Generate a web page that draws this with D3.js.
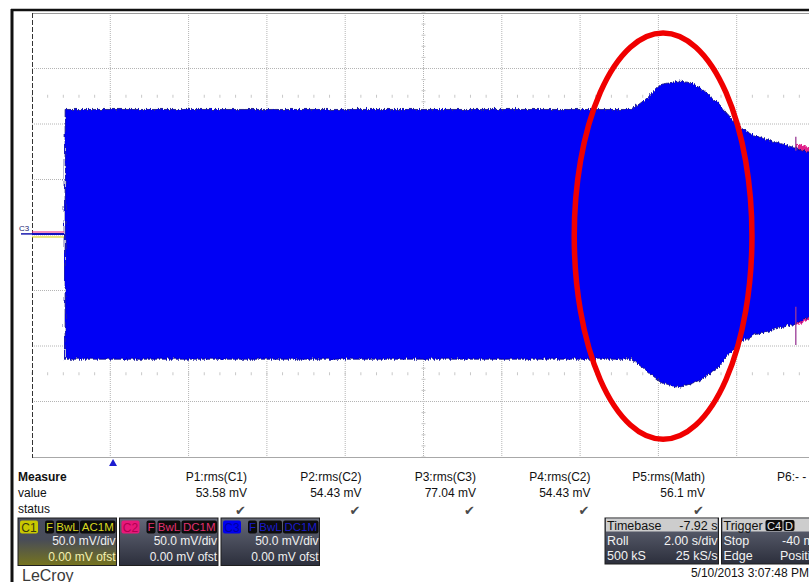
<!DOCTYPE html>
<html>
<head>
<meta charset="utf-8">
<script src="https://cdn.jsdelivr.net/npm/d3@7"></script>
<style>
  body { margin: 0; background: #fff; }
  svg { display: block; font-family: "Liberation Sans", Arial, sans-serif; }
</style>
</head>
<body>
<script>
// envelope of the C3 trace (time in s, amplitude in mV)
const envTime = [0.82, 15.30, 15.70, 16.04, 16.50, 16.81, 17.10, 17.50, 18.00, 18.45, 18.94, 19.45, 19.51, 19.85, 20.0];
const envUpper = [114, 114, 124.6, 136.7, 139.6, 138.1, 132, 120, 99, 90, 85, 79.6, 79, 75, 74];
const envLower = [-111, -111, -122, -132, -136.5, -133, -129, -118, -97.6, -89, -84, -79.5, -79, -72, -71];

// idle traces before the burst starts
const idleTime = [0, 0.82];
const idleC1 = [-1.8, -1.8];
const idleC2 = [2.7, 2.7];
const idleC3 = [1, 1];

// C2 glitch at the right edge
const glitchTime = 19.51;
const glitchTop = [76, 88.6];
const glitchBottom = [-64.6, -99];
const c2TailTime = [19.51, 19.85, 20.0];
const c2TailUpper = [80, 77, 76];
const c2TailLower = [-78, -72, -71];

// highlight ring drawn on the capture
const ringTime = 16.12;
const ringMv = -1;
const ringHalfTime = 2.27;
const ringHalfMv = 183;

const triggerTime = 2.07;

const measureNames = ['P1:rms(C1)', 'P2:rms(C2)', 'P3:rms(C3)', 'P4:rms(C2)', 'P5:rms(Math)'];
const measureValues = ['53.58 mV', '54.43 mV', '77.04 mV', '54.43 mV', '56.1 mV'];

const chanNames = ['C1', 'C2', 'C3'];
const chanColors = ['#c9c800', '#e8187a', '#0000f0'];
const chanText = ['#d8d820', '#e0306f', '#1a1ac8'];
const chanCoupling = ['AC1M', 'DC1M', 'DC1M'];
const chanScale = ['50.0 mV/div', '50.0 mV/div', '50.0 mV/div'];
const chanOffset = ['0.00 mV ofst', '0.00 mV ofst', '0.00 mV ofst'];

const W = 809, H = 582;
const svg = d3.select('body').append('svg').attr('width', W).attr('height', H);

const x = d3.scaleLinear().domain([0, 20]).range([32, 815]);
const y = d3.scaleLinear().domain([-200, 200]).range([457, 13]);

const defs = svg.append('defs');
defs.append('clipPath').attr('id', 'plot')
  .append('rect').attr('x', 32).attr('y', 13).attr('width', W - 32).attr('height', 444);

const rough = defs.append('filter').attr('id', 'rough')
  .attr('x', '-2%').attr('y', '-5%').attr('width', '104%').attr('height', '110%');
rough.append('feTurbulence').attr('type', 'turbulence').attr('baseFrequency', '0.9 0.06')
  .attr('numOctaves', 2).attr('seed', 4).attr('result', 'n');
rough.append('feDisplacementMap').attr('in', 'SourceGraphic').attr('in2', 'n')
  .attr('scale', 4).attr('xChannelSelector', 'R').attr('yChannelSelector', 'G');

const boxGrad = defs.append('linearGradient').attr('id', 'boxg').attr('x1', 0).attr('y1', 0).attr('x2', 0).attr('y2', 1);
boxGrad.append('stop').attr('offset', '0%').attr('stop-color', '#646878');
boxGrad.append('stop').attr('offset', '100%').attr('stop-color', '#2c2f3c');
const c1Grad = defs.append('linearGradient').attr('id', 'c1g').attr('x1', 0).attr('y1', 0).attr('x2', 0).attr('y2', 1);
c1Grad.append('stop').attr('offset', '0%').attr('stop-color', '#4a4e60');
c1Grad.append('stop').attr('offset', '45%').attr('stop-color', '#484c58');
c1Grad.append('stop').attr('offset', '100%').attr('stop-color', '#76741e');

// grid
const grid = svg.append('g');
grid.selectAll('line.v').data(d3.range(2, 21, 2)).join('line')
  .attr('x1', d => x(d)).attr('x2', d => x(d)).attr('y1', 13).attr('y2', 457)
  .attr('stroke', '#b4b4b4').attr('stroke-dasharray', '1,1');
grid.selectAll('line.h').data(d3.range(-150, 200, 50)).join('line')
  .attr('x1', 32).attr('x2', W).attr('y1', d => y(d)).attr('y2', d => y(d))
  .attr('stroke', '#b4b4b4').attr('stroke-dasharray', '1,1');
// minor ticks
const minor = d3.range(0, 20.01, 0.4);
[125, -125].forEach(v => {
  grid.append('g').selectAll('line').data(minor).join('line')
    .attr('x1', d => x(d)).attr('x2', d => x(d)).attr('y1', y(v) - 1.5).attr('y2', y(v) + 1.5)
    .attr('stroke', '#c8c8c8');
});
grid.append('g').selectAll('line').data(d3.range(-200, 200.1, 10)).join('line')
  .attr('x1', x(10) - 2).attr('x2', x(10) + 2).attr('y1', d => y(d)).attr('y2', d => y(d))
  .attr('stroke', '#c8c8c8');
grid.append('line').attr('x1', 32).attr('x2', W).attr('y1', 13.5).attr('y2', 13.5).attr('stroke', '#9a9a9a');
grid.append('line').attr('x1', 32).attr('x2', W).attr('y1', 457.5).attr('y2', 457.5).attr('stroke', '#a8a8a8');
grid.append('line').attr('x1', 32.5).attr('x2', 32.5).attr('y1', 13).attr('y2', 458)
  .attr('stroke', '#333').attr('stroke-dasharray', '5,2');

// traces
const plot = svg.append('g').attr('clip-path', 'url(#plot)');
const idx = d3.range(envTime.length);
const tailIdx = d3.range(c2TailTime.length);

plot.append('path').datum(tailIdx)
  .attr('d', d3.area().x(i => x(c2TailTime[i])).y0(i => y(c2TailLower[i] - 3)).y1(i => y(c2TailUpper[i] + 3)))
  .attr('fill', '#e0208a').attr('filter', 'url(#rough)');

plot.append('path').datum(idx)
  .attr('d', d3.area().x(i => x(envTime[i])).y0(i => y(envLower[i])).y1(i => y(envUpper[i])))
  .attr('fill', '#0000f5').attr('stroke', '#14147a').attr('stroke-width', 0.8)
  .attr('filter', 'url(#rough)');

const idleLine = vals => d3.line().x((d, i) => x(idleTime[i])).y(d => y(d))(vals);
plot.append('path').attr('d', idleLine(idleC2)).attr('stroke', '#e8187a').attr('stroke-width', 1).attr('fill', 'none');
plot.append('path').attr('d', idleLine(idleC1)).attr('stroke', '#d8d000').attr('stroke-width', 1).attr('fill', 'none');
plot.append('path').attr('d', idleLine(idleC3)).attr('stroke', '#1010c0').attr('stroke-width', 2).attr('fill', 'none');

[glitchTop, glitchBottom].forEach(seg => {
  plot.append('line').attr('x1', x(glitchTime)).attr('x2', x(glitchTime))
    .attr('y1', y(seg[0])).attr('y2', y(seg[1]))
    .attr('stroke', '#9a3a96').attr('stroke-width', 1.3);
});

// C3 channel marker
svg.append('text').attr('x', 19).attr('y', y(idleC3[0]) - 3).attr('font-size', 8).attr('fill', '#1a1a70').text('C3');
svg.append('line').attr('x1', 21).attr('x2', 32).attr('y1', y(idleC3[0])).attr('y2', y(idleC3[0]))
  .attr('stroke', '#1a1ab0').attr('stroke-width', 1.5);

// ring
svg.append('ellipse')
  .attr('cx', x(ringTime)).attr('cy', y(ringMv))
  .attr('rx', x(ringTime + ringHalfTime) - x(ringTime))
  .attr('ry', y(ringMv) - y(ringMv + ringHalfMv))
  .attr('fill', 'none').attr('stroke', '#f00000').attr('stroke-width', 5.5);

// frame
svg.append('line').attr('x1', 11).attr('x2', W).attr('y1', 10).attr('y2', 10).attr('stroke', '#111').attr('stroke-width', 2.5);
svg.append('line').attr('x1', 12).attr('x2', 12).attr('y1', 9).attr('y2', H).attr('stroke', '#111').attr('stroke-width', 3);

// trigger position marker
const tx = x(triggerTime);
svg.append('path').attr('d', `M${tx - 4},466 L${tx + 4},466 L${tx},459 Z`).attr('fill', '#1c1cd0');

// measure table
const mt = svg.append('g').attr('font-size', 12).attr('fill', '#111');
mt.append('text').attr('x', 18).attr('y', 481).attr('font-weight', 'bold').text('Measure');
mt.append('text').attr('x', 18).attr('y', 497).text('value');
mt.append('text').attr('x', 18).attr('y', 513).text('status');
measureNames.forEach((name, i) => {
  const rx = 247 + i * 114.5;
  mt.append('text').attr('x', rx).attr('y', 481).attr('text-anchor', 'end').text(name);
  mt.append('text').attr('x', rx).attr('y', 497).attr('text-anchor', 'end').text(measureValues[i]);
  mt.append('text').attr('x', rx - 1).attr('y', 514.5).attr('text-anchor', 'end')
    .attr('font-family', 'DejaVu Sans').attr('font-size', 13).attr('fill', '#4a4a4a').text('\u2714');
});
mt.append('text').attr('x', 777).attr('y', 481).text('P6:- - -');

// channel descriptor boxes
chanNames.forEach((name, i) => {
  const bx = 18 + i * 101.5;
  const g = svg.append('g');
  g.append('rect').attr('x', bx).attr('y', 518).attr('width', 98.5).attr('height', 47.5)
    .attr('fill', i === 0 ? 'url(#c1g)' : 'url(#boxg)').attr('stroke', '#1e1e1e');
  g.append('rect').attr('x', bx + 2).attr('y', 520.5).attr('width', 18).attr('height', 13).attr('rx', 2)
    .attr('fill', chanColors[i]);
  g.append('text').attr('x', bx + 11).attr('y', 531.5).attr('text-anchor', 'middle').attr('font-size', 12)
    .attr('fill', i === 0 ? '#3a3a10' : (i === 1 ? '#b00050' : '#0000a0')).text(name);
  const badges = [['F', 27, 9], ['BwL', 38, 23], [chanCoupling[i], 62, 35.5]];
  badges.forEach(([t, off, w]) => {
    g.append('rect').attr('x', bx + off).attr('y', 520.5).attr('width', w).attr('height', 13).attr('rx', 2)
      .attr('fill', '#0c0c0c');
    g.append('text').attr('x', bx + off + w / 2).attr('y', 531).attr('text-anchor', 'middle')
      .attr('font-size', 11.5).attr('fill', chanText[i]).text(t);
  });
  g.append('text').attr('x', bx + 97.5).attr('y', 545).attr('text-anchor', 'end').attr('font-size', 12)
    .attr('fill', '#f0f0f0').text(chanScale[i]);
  g.append('text').attr('x', bx + 97.5).attr('y', 561).attr('text-anchor', 'end').attr('font-size', 12)
    .attr('fill', i === 0 ? '#f4f0b0' : '#f0f0f0').text(chanOffset[i]);
});

// timebase & trigger boxes
function infoBox(bx, w, head, rows) {
  const g = svg.append('g').attr('font-size', 12.5);
  g.append('rect').attr('x', bx).attr('y', 518).attr('width', w).attr('height', 46).attr('fill', 'url(#boxg)').attr('stroke', '#1e1e1e');
  g.append('rect').attr('x', bx + 1).attr('y', 518.5).attr('width', w - 2).attr('height', 13).attr('fill', '#cdcdcd');
  g.append('text').attr('x', bx + 2).attr('y', 529.5).attr('fill', '#111').text(head[0]);
  if (head[1]) g.append('text').attr('x', bx + w - 1).attr('y', 529.5).attr('text-anchor', 'end').attr('fill', '#111').text(head[1]);
  rows.forEach((r, k) => {
    g.append('text').attr('x', bx + 2).attr('y', 545 + k * 15).attr('fill', '#f2f2f2').text(r[0]);
    g.append('text').attr('x', r[2] !== undefined ? r[2] : bx + w - 1).attr('y', 545 + k * 15)
      .attr('text-anchor', r[2] !== undefined ? 'start' : 'end').attr('fill', '#f2f2f2').text(r[1]);
  });
  return g;
}
infoBox(605, 113.5, ['Timebase', '-7.92 s'], [['Roll', '2.00 s/div'], ['500 kS', '25 kS/s']]);
const trig = infoBox(721.5, 100, ['Trigger', null], [['Stop', '-40 mV', 782], ['Edge', 'Positive', 780]]);
[['C4', 765.5, 17], ['D', 783.5, 11]].forEach(([t, bx, w]) => {
  trig.append('rect').attr('x', bx).attr('y', 520).attr('width', w).attr('height', 11).attr('rx', 2).attr('fill', '#0c0c0c');
  trig.append('text').attr('x', bx + w / 2).attr('y', 529.5).attr('text-anchor', 'middle').attr('font-size', 11)
    .attr('fill', '#e8e8e8').text(t);
});

svg.append('text').attr('x', 809).attr('y', 577).attr('text-anchor', 'end').attr('font-size', 12).attr('fill', '#111')
  .text('5/10/2013 3:07:48 PM');
svg.append('text').attr('x', 22).attr('y', 581).attr('font-size', 16).attr('fill', '#3a3a3a').text('LeCroy');
</script>
</body>
</html>
